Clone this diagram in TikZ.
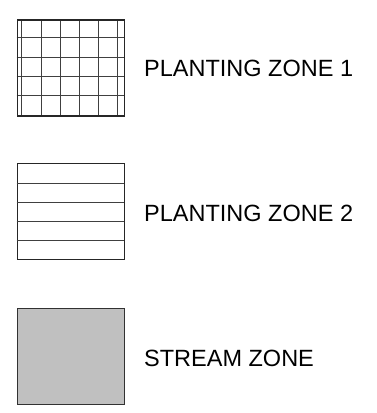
\documentclass[tikz,border=0pt]{standalone}
\usepackage{fontspec}
\setmainfont{Liberation Sans}
\begin{document}
\begin{tikzpicture}[x=1pt,y=-1pt,
  legendbox/.style={draw=black!85,line width=1.2pt,inner sep=0pt,anchor=north west},
  hatchline/.style={draw=black!75,line width=0.9pt},
  legendlabel/.style={anchor=base west,inner sep=0pt,font=\fontsize{23.5}{26}\selectfont}]
\useasboundingbox (0,0) rectangle (377,413);
% zone 1
\node[legendbox,minimum width=107.3pt,minimum height=96pt] (z1) at (16.7,19.3) {};
\foreach \x in {21.3,41.3,60.3,79.3,98.3,117.3}
  \draw[hatchline] (\x,19.3) -- (\x,115.3);
\foreach \y in {37.7,57.3,76.7,95.7}
  \draw[hatchline] (16.7,\y) -- (124,\y);
\node[legendbox,fill=none,minimum width=107.3pt,minimum height=96pt] at (16.7,19.3) {};
% zone 2
\node[legendbox,line width=1pt,minimum width=107.3pt,minimum height=96pt] (z2) at (16.7,163.3) {};
\foreach \y in {183,202.3,221.3,240.3}
  \draw[hatchline] (16.7,\y) -- (124,\y);
% stream zone
\node[legendbox,fill={rgb,255:red,192;green,192;blue,192},draw={rgb,255:red,50;green,50;blue,50},minimum width=107.3pt,minimum height=96.3pt] (z3) at (16.7,307.7) {};
% labels
\node[legendlabel] (l1) at (144,76.7) {PLANTING ZONE 1};
\node[legendlabel] (l2) at (144,221.7) {PLANTING ZONE 2};
\node[legendlabel] (l3) at (144,366) {STREAM ZONE};
\end{tikzpicture}
\end{document}
